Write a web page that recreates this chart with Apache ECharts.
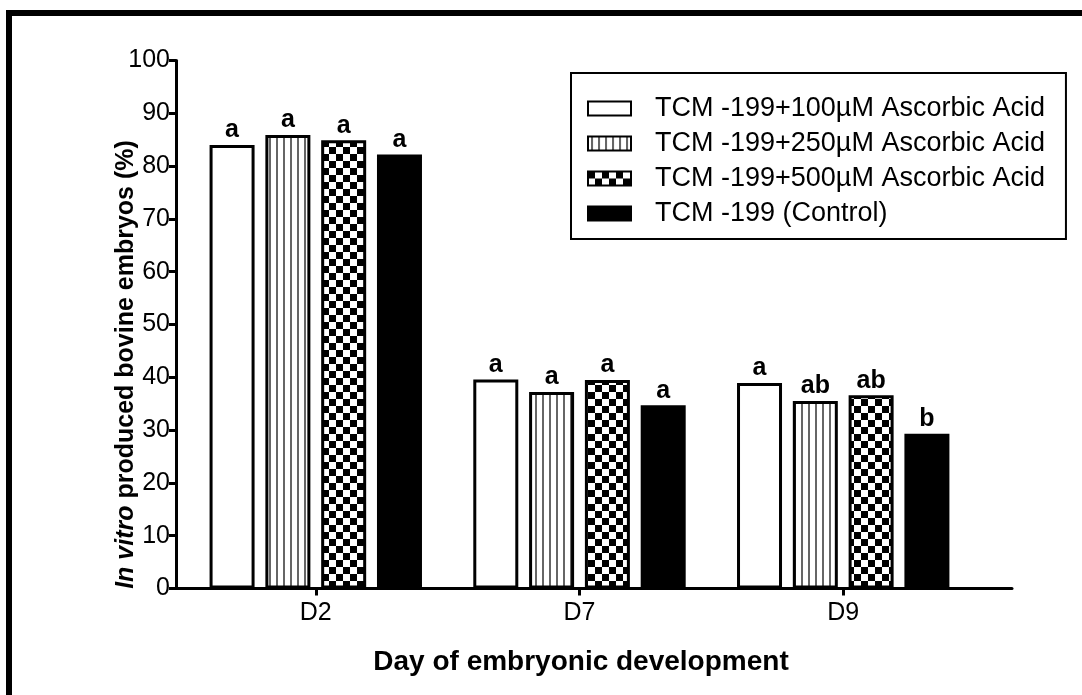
<!DOCTYPE html>
<html>
<head>
<meta charset="utf-8">
<script src="https://cdn.jsdelivr.net/npm/echarts@6/dist/echarts.min.js"></script>
<style>
html,body{margin:0;padding:0;background:#fff;}
#chart{width:1082px;height:695px;}
</style>
</head>
<body>
<div id="chart"></div>
<script>
// ---- data ----
const categories = ['D2', 'D7', 'D9'];
const seriesNames = [
  'TCM -199+100µM Ascorbic Acid',
  'TCM -199+250µM Ascorbic Acid',
  'TCM -199+500µM Ascorbic Acid',
  'TCM -199 (Control)'
];
const values100 = [84.0, 39.6, 38.9];
const values250 = [85.9, 37.2, 35.5];
const values500 = [84.9, 39.5, 36.6];
const valuesControl = [82.2, 34.7, 29.3];
const letters100 = ['a', 'a', 'a'];
const letters250 = ['a', 'a', 'ab'];
const letters500 = ['a', 'a', 'ab'];
const lettersControl = ['a', 'a', 'b'];
const yMin = 0, yMax = 100, yInterval = 10;
const xMin = -0.53, xMax = 2.64;

// ---- patterns ----
function stripePattern() {
  const c = document.createElement('canvas');
  c.width = 7; c.height = 4;
  const g = c.getContext('2d');
  g.fillStyle = '#fff'; g.fillRect(0, 0, 7, 4);
  g.fillStyle = '#666'; g.fillRect(3, 0, 2, 4);
  return c;
}
function checkerPattern() {
  const c = document.createElement('canvas');
  c.width = 14; c.height = 14;
  const g = c.getContext('2d');
  g.fillStyle = '#fff'; g.fillRect(0, 0, 14, 14);
  g.fillStyle = '#000';
  g.fillRect(0, 0, 7, 7); g.fillRect(7, 7, 7, 7);
  return c;
}
const fills = [
  '#ffffff',
  { image: stripePattern(), repeat: 'repeat' },
  { image: checkerPattern(), repeat: 'repeat' },
  '#000000'
];
const allValues = [values100, values250, values500, valuesControl];
const allLetters = [letters100, letters250, letters500, lettersControl];
const FONT = 'Arial, "Liberation Sans", sans-serif';

const series = seriesNames.map((name, si) => ({
  name: name,
  type: 'bar',
  barWidth: 45,
  barGap: '24%',
  data: allValues[si].map((v, i) => [i, v]),
  itemStyle: { color: fills[si], borderColor: '#000', borderWidth: 3 },
  label: {
    show: true,
    position: 'top',
    distance: 2,
    color: '#000',
    fontFamily: FONT,
    fontWeight: 'bold',
    fontSize: 25,
    formatter: p => allLetters[si][p.dataIndex]
  },
  emphasis: { disabled: true }
}));

const chart = echarts.init(document.getElementById('chart'), null, { renderer: 'canvas' });
chart.setOption({
  backgroundColor: '#fff',
  animation: false,
  grid: { left: 176, top: 60.5, bottom: 106.5, right: 70, containLabel: false },
  legend: {
    orient: 'vertical',
    left: 571,
    top: 73,
    padding: [22, 21, 12, 16],
    borderColor: '#000',
    borderWidth: 2,
    itemWidth: 43,
    itemHeight: 14,
    itemGap: 8,
    icon: 'rect',
    textStyle: { fontFamily: FONT, fontSize: 27, color: '#000', padding: [0, 0, 0, 19] },
    data: seriesNames
  },
  xAxis: {
    type: 'value',
    min: xMin,
    max: xMax,
    name: 'Day of embryonic development',
    nameLocation: 'middle',
    nameGap: 60,
    nameMoveOverlap: false,
    nameTextStyle: { fontFamily: FONT, fontSize: 28, fontWeight: 'bold', color: '#000', padding: [0, 26, 0, 0] },
    axisLine: { show: true, onZero: false, lineStyle: { color: '#000', width: 3 } },
    axisTick: { show: true, length: 7, lineStyle: { color: '#000', width: 3 }, customValues: [0, 1, 2] },
    axisLabel: {
      show: true, customValues: [0, 1, 2], margin: 12,
      fontFamily: FONT, fontSize: 25, color: '#000',
      formatter: v => categories[Math.round(v)]
    },
    splitLine: { show: false }
  },
  yAxis: {
    type: 'value',
    min: yMin,
    max: yMax,
    interval: yInterval,
    name: '{i|In vitro} produced bovine embryos (%)',
    nameLocation: 'middle',
    nameGap: 37,
    nameMoveOverlap: false,
    nameTextStyle: {
      fontFamily: FONT, fontSize: 25, fontWeight: 'bold', color: '#000',
      padding: [0, 80, 0, 0],
      rich: { i: { fontFamily: FONT, fontSize: 25, fontWeight: 'bold', fontStyle: 'italic', color: '#000' } }
    },
    axisLine: { show: true, onZero: false, lineStyle: { color: '#000', width: 3 } },
    axisTick: { show: true, length: 7, lineStyle: { color: '#000', width: 3 } },
    axisLabel: { fontFamily: FONT, fontSize: 25, color: '#000', margin: 6 },
    splitLine: { show: false }
  },
  graphic: [{
    type: 'polyline',
    shape: { points: [[9, 695], [9, 13], [1082, 13]] },
    style: { stroke: '#000', lineWidth: 6, fill: null },
    silent: true
  }],
  series: series
});
</script>
</body>
</html>
